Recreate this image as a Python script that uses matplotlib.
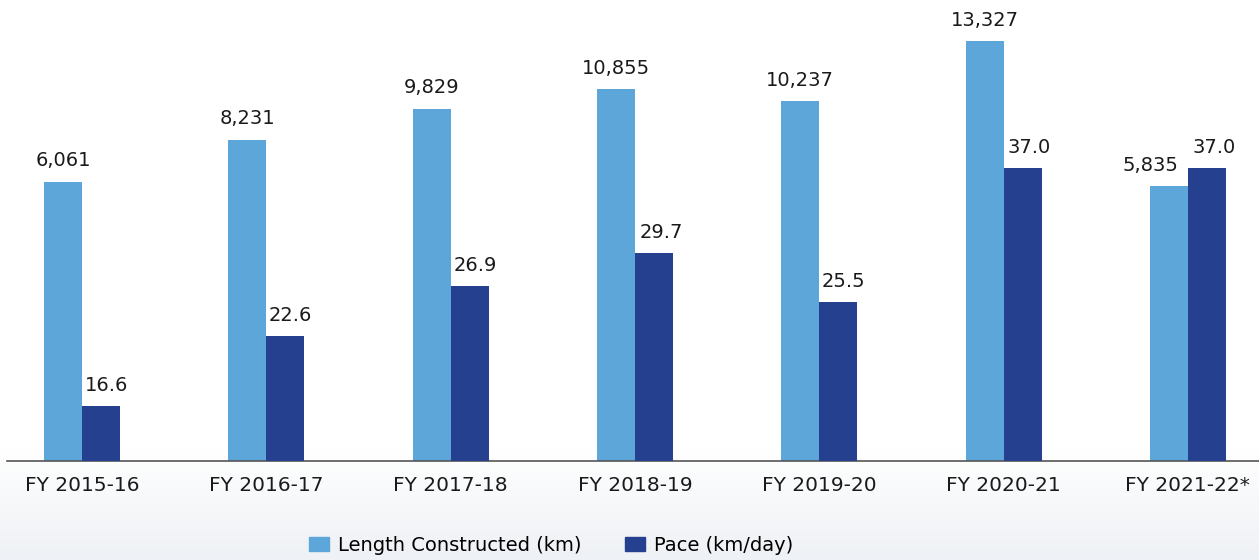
import numpy as np
import matplotlib
matplotlib.use("Agg")
import matplotlib.pyplot as plt
from matplotlib.patches import Patch
from matplotlib.colors import LinearSegmentedColormap

years = ["FY 2015-16", "FY 2016-17", "FY 2017-18", "FY 2018-19",
         "FY 2019-20", "FY 2020-21", "FY 2021-22*"]
length_km = [6061, 8231, 9829, 10855, 10237, 13327, 5835]
pace_km_day = [16.6, 22.6, 26.9, 29.7, 25.5, 37.0, 37.0]

LIGHT = "#5CA6DA"
DARK = "#25408F"
TEXT = "#1a1a1a"

# the source chart does not start its axes at zero
len_lim = (-8360, 14400)
pace_lim = (11.9, 49.7)

plt.rcParams["font.family"] = ["DejaVu Sans"]

fig = plt.figure(figsize=(12.59, 5.6), dpi=100)

# faint grey-blue wash at the bottom of the picture
bg = fig.add_axes([0, 0, 1, 0.2], zorder=-5)
wash = LinearSegmentedColormap.from_list("wash", ["#ffffff", "#eef1f5"])
grad = np.linspace(0, 1, 100).reshape(-1, 1)
bg.imshow(grad, extent=[0, 1, 0, 1], aspect="auto", cmap=wash, origin="upper")
bg.set_axis_off()

ax = fig.add_axes([0.0055, 0.1768, 0.9945, 0.7875])
ax2 = ax.twinx()

x = np.arange(len(years))
w = 0.206

ax.bar(x - w / 2, np.array(length_km) - len_lim[0], w, bottom=len_lim[0],
       color=LIGHT)
ax2.bar(x + w / 2, np.array(pace_km_day) - pace_lim[0], w, bottom=pace_lim[0],
        color=DARK)

# last group: labels pushed apart so they don't sit on the neighbour bar
len_dx = [0, 0, 0, 0, 0, 0, -13]
pace_dx = [4, 4, 4, 5, 4, 5, 5]

for xi, v, dx in zip(x, length_km, len_dx):
    ax.annotate(f"{v:,}", (xi - w / 2, v), xytext=(dx, 8),
                textcoords="offset points", ha="center", va="bottom",
                fontsize=14, color=TEXT)
for xi, v, dx in zip(x, pace_km_day, pace_dx):
    ax2.annotate(f"{v:.1f}", (xi + w / 2, v), xytext=(dx, 8),
                 textcoords="offset points", ha="center", va="bottom",
                 fontsize=14, color=TEXT)

ax.set_ylim(*len_lim)
ax2.set_ylim(*pace_lim)
ax.set_xlim(-0.407, 6.386)

for a in (ax, ax2):
    for s in ("top", "right", "left"):
        a.spines[s].set_visible(False)
    a.patch.set_visible(False)
    a.set_yticks([])
ax2.spines["bottom"].set_visible(False)
ax.spines["bottom"].set_color("#555555")
ax.spines["bottom"].set_linewidth(1.2)

ax.set_xticks(x)
ax.set_xticklabels(years, fontsize=14.5, color=TEXT)
ax.tick_params(axis="x", length=0, pad=11)

handles = [Patch(color=LIGHT, label="Length Constructed (km)"),
           Patch(color=DARK, label="Pace (km/day)")]
fig.legend(handles=handles, loc="center", bbox_to_anchor=(0.4377, 0.026),
           ncol=2, frameon=False, fontsize=14, handlelength=1.03,
           handleheight=0.77, handletextpad=0.46, columnspacing=2.2)

fig.savefig("out.png", dpi=100)
